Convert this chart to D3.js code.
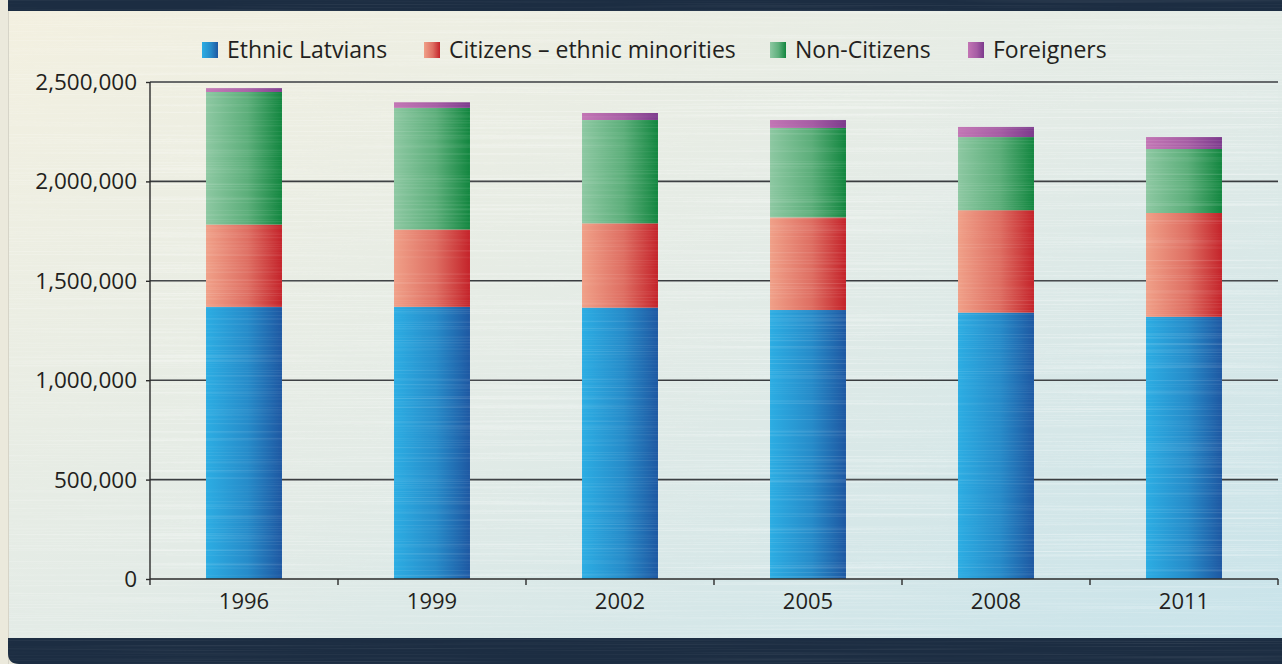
<!DOCTYPE html>
<html lang="en">
  <head>
    <title>Latvia population by status</title>
    <meta charset="utf-8">
    <style>
      body { margin: 0; background: #ebe9dc; }
      svg { display: block; }
      text { font-family: "Open Sans", sans-serif; fill: #231f20; }
    </style>
  </head>
  <body>
<svg width="1282" height="664"></svg>
<script src="https://cdn.jsdelivr.net/npm/d3@7"></script>
<script>

// values
var years = ["1996", "1999", "2002", "2005", "2008", "2011"];
var ethnicLatvians = [1369000, 1369000, 1365000, 1353000, 1340000, 1319000];
var citizensMinorities = [414000, 389000, 424000, 466000, 515000, 522000];
var nonCitizens = [667000, 612000, 520000, 450000, 368000, 322000];
var foreigners = [19000, 28000, 35000, 40000, 51000, 60000];
var seriesNames = ["Ethnic Latvians", "Citizens – ethnic minorities", "Non-Citizens", "Foreigners"];
var yTicks = [0, 500000, 1000000, 1500000, 2000000, 2500000];

// left/right colour of each series' horizontal gradient
var grads = [["#2cade3", "#1e58a2"], ["#f0a088", "#c4232a"], ["#8dc8a2", "#12863f"], ["#c275b4", "#7c3a8c"]];
var legendX = [202, 424, 770, 968];

var svg = d3.select("svg"),
    W = 1282, H = 664;
var defs = svg.append("defs");

grads.forEach(function(g, i) {
  var lg = defs.append("linearGradient").attr("id", "bar" + i)
      .attr("x1", 0).attr("y1", 0).attr("x2", 1).attr("y2", 0);
  lg.append("stop").attr("offset", "0%").attr("stop-color", g[0]);
  lg.append("stop").attr("offset", "55%").attr("stop-color", d3.interpolateRgb(g[0], g[1])(0.4));
  lg.append("stop").attr("offset", "100%").attr("stop-color", g[1]);
});

var pg = defs.append("linearGradient").attr("id", "panel")
    .attr("x1", 0).attr("y1", 0).attr("x2", 1).attr("y2", 1);
pg.append("stop").attr("offset", "0%").attr("stop-color", "#f3f0e0");
pg.append("stop").attr("offset", "50%").attr("stop-color", "#e3ebe6");
pg.append("stop").attr("offset", "100%").attr("stop-color", "#c8e3ea");

// brushed metal streaks
var f = defs.append("filter").attr("id", "brush")
    .attr("x", 0).attr("y", 0).attr("width", "100%").attr("height", "100%");
f.append("feTurbulence").attr("type", "fractalNoise").attr("baseFrequency", "0.003 0.7")
    .attr("numOctaves", 2).attr("seed", 4);
f.append("feColorMatrix").attr("type", "matrix")
    .attr("values", "0 0 0 0 1  0 0 0 0 1  0 0 0 0 1  1.6 0 0 0 -0.75");

// page pieces
svg.append("rect").attr("x", 0).attr("y", 0).attr("width", 8).attr("height", H).attr("fill", "#ebe9dc");
svg.append("rect").attr("x", 8).attr("y", 11).attr("width", W - 8).attr("height", 627).attr("fill", "url(#panel)");
svg.append("rect").attr("x", 8).attr("y", 11).attr("width", W - 8).attr("height", 627)
    .attr("filter", "url(#brush)").attr("opacity", 0.4);
svg.append("line").attr("x1", 8.5).attr("x2", 8.5).attr("y1", 0).attr("y2", H)
    .attr("stroke", "#d6d4c8").attr("stroke-width", 1);
svg.append("rect").attr("x", 8).attr("y", 0).attr("width", W - 8).attr("height", 11).attr("fill", "#1c2d42");
svg.append("path").attr("d", "M8,638H1282V664H19Q8,664 8,653Z").attr("fill", "#1c2d42");
svg.append("rect").attr("x", 8).attr("y", 0).attr("width", W - 8).attr("height", 11)
    .attr("filter", "url(#brush)").attr("opacity", 0.12);
svg.append("rect").attr("x", 8).attr("y", 638).attr("width", W - 8).attr("height", 26)
    .attr("filter", "url(#brush)").attr("opacity", 0.12);

var x = d3.scaleBand().domain(years).range([150, 1278]).paddingInner(0.596).paddingOuter(0.298);
var y = d3.scaleLinear().domain([0, 2500000]).range([579, 82]);

// gridlines
svg.append("g").selectAll("line").data(yTicks.slice(1)).enter().append("line")
    .attr("x1", 150).attr("x2", 1278)
    .attr("y1", function(d) { return y(d); }).attr("y2", function(d) { return y(d); })
    .attr("stroke", "#3a3d40").attr("stroke-width", 1.6);

// stacked bars
var table = years.map(function(yr, i) {
  return {year: yr, a: ethnicLatvians[i], b: citizensMinorities[i], c: nonCitizens[i], d: foreigners[i]};
});
var stack = d3.stack().keys(["a", "b", "c", "d"])(table);

svg.append("g").selectAll("g").data(stack).enter().append("g")
    .attr("fill", function(d, i) { return "url(#bar" + i + ")"; })
  .selectAll("rect").data(function(d) { return d; }).enter().append("rect")
    .attr("x", function(d) { return x(d.data.year); })
    .attr("width", x.bandwidth())
    .attr("y", function(d) { return y(d[1]); })
    .attr("height", function(d) { return y(d[0]) - y(d[1]); });

// streaks over bars too
svg.append("rect").attr("x", 150).attr("y", 82).attr("width", 1128).attr("height", 497)
    .attr("filter", "url(#brush)").attr("opacity", 0.22);

// axes
var yAxis = d3.axisLeft(y).tickValues(yTicks).tickSize(4).tickPadding(9)
    .tickFormat(d3.format(","));
var gy = svg.append("g").attr("transform", "translate(150,0)").call(yAxis);
gy.select(".domain").attr("d", "M0,82V579").attr("stroke", "#2b2b2b").attr("stroke-width", 1.4);
gy.selectAll(".tick line").attr("stroke", "#2b2b2b").attr("stroke-width", 1.4);
gy.selectAll("text").attr("font-size", 22.5).attr("fill", "#231f20")
    .attr("font-family", "Open Sans").attr("dy", "0.33em");

var bounds = d3.range(years.length + 1).map(function(i) { return 150 + i * x.step(); });
var gx = svg.append("g");
gx.append("line").attr("x1", 150).attr("x2", 1278).attr("y1", 579).attr("y2", 579)
    .attr("stroke", "#2b2b2b").attr("stroke-width", 1.4);
gx.selectAll("line.t").data(bounds).enter().append("line").attr("class", "t")
    .attr("x1", function(d) { return d; }).attr("x2", function(d) { return d; })
    .attr("y1", 579).attr("y2", 585).attr("stroke", "#2b2b2b").attr("stroke-width", 1.4);
gx.selectAll("text").data(years).enter().append("text")
    .attr("x", function(d) { return x(d) + x.bandwidth() / 2; })
    .attr("y", 609).attr("text-anchor", "middle").attr("font-size", 22)
    .text(function(d) { return d; });

// legend
var lg = svg.append("g").selectAll("g").data(seriesNames).enter().append("g")
    .attr("transform", function(d, i) { return "translate(" + legendX[i] + ",42)"; });
lg.append("rect").attr("width", 16).attr("height", 16)
    .attr("fill", function(d, i) { return "url(#bar" + i + ")"; });
lg.append("text").attr("x", 25).attr("y", 16).attr("font-size", 23)
    .text(function(d) { return d; });

</script>
  </body>
</html>
